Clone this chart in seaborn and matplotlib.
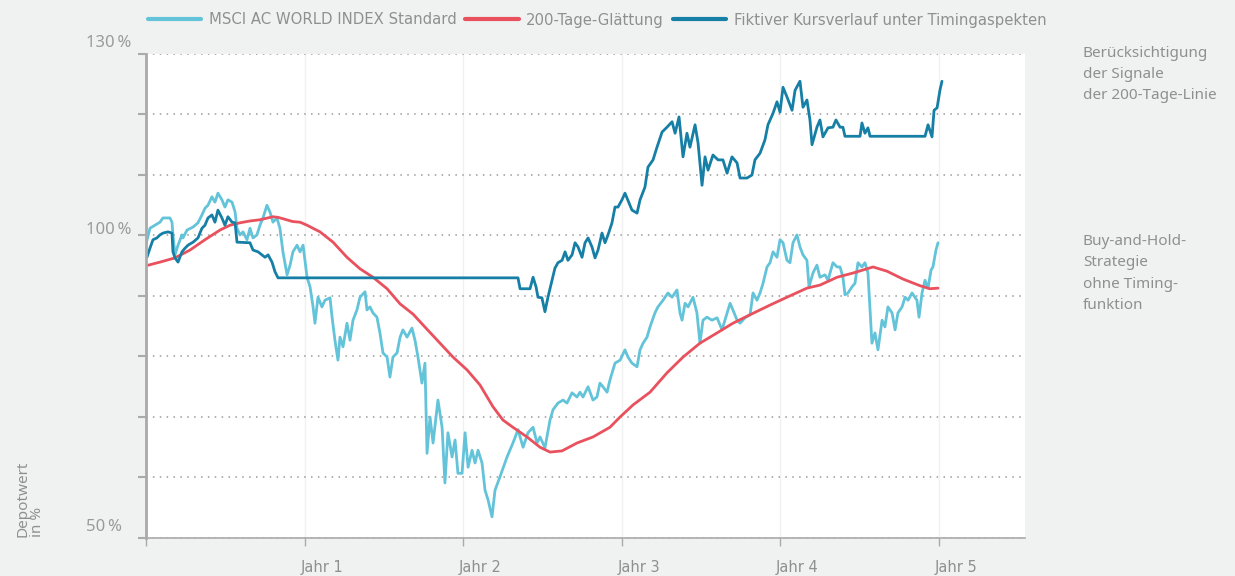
import matplotlib
matplotlib.use("Agg")
import matplotlib.pyplot as plt
import matplotlib.transforms as mtransforms
import seaborn as sns
import pandas as pd

# ---------------- data (years since start, value in %) ----------------
msci_t = [0.000, 0.025, 0.057, 0.088, 0.107, 0.151, 0.164, 0.170, 0.183, 0.202, 0.227, 0.233, 0.259, 0.297,
          0.328, 0.353, 0.372, 0.391, 0.416, 0.435, 0.454, 0.479, 0.498, 0.517, 0.543, 0.562, 0.574, 0.593,
          0.612, 0.637, 0.656, 0.675, 0.700, 0.719, 0.738, 0.763, 0.782, 0.801, 0.826, 0.845, 0.864, 0.890,
          0.909, 0.927, 0.953, 0.972, 0.991, 1.016, 1.035, 1.054, 1.066, 1.085, 1.110, 1.129, 1.161, 1.174,
          1.192, 1.211, 1.224, 1.243, 1.268, 1.287, 1.306, 1.331, 1.350, 1.382, 1.394, 1.413, 1.432, 1.457,
          1.476, 1.495, 1.521, 1.539, 1.558, 1.584, 1.603, 1.621, 1.647, 1.678, 1.697, 1.716, 1.741, 1.760,
          1.773, 1.792, 1.811, 1.842, 1.868, 1.886, 1.905, 1.931, 1.950, 1.968, 1.994, 2.013, 2.032, 2.057,
          2.076, 2.095, 2.120, 2.139, 2.158, 2.183, 2.202, 2.233, 2.278, 2.315, 2.347, 2.379, 2.410, 2.442,
          2.467, 2.486, 2.517, 2.549, 2.568, 2.599, 2.631, 2.656, 2.688, 2.719, 2.738, 2.757, 2.789, 2.820,
          2.845, 2.864, 2.883, 2.909, 2.927, 2.959, 2.991, 3.022, 3.041, 3.066, 3.098, 3.117, 3.136, 3.161,
          3.180, 3.211, 3.230, 3.262, 3.293, 3.319, 3.350, 3.369, 3.382, 3.401, 3.420, 3.451, 3.476, 3.495,
          3.514, 3.539, 3.571, 3.603, 3.634, 3.666, 3.685, 3.703, 3.729, 3.748, 3.779, 3.811, 3.830, 3.855,
          3.874, 3.893, 3.918, 3.937, 3.956, 3.981, 4.000, 4.019, 4.044, 4.063, 4.082, 4.107, 4.126, 4.145,
          4.170, 4.183, 4.208, 4.233, 4.252, 4.284, 4.303, 4.334, 4.360, 4.379, 4.397, 4.410, 4.429, 4.454,
          4.473, 4.492, 4.517, 4.536, 4.555, 4.580, 4.599, 4.618, 4.644, 4.662, 4.681, 4.707, 4.726, 4.744,
          4.770, 4.789, 4.808, 4.833, 4.864, 4.877, 4.896, 4.915, 4.934, 4.953, 4.965, 4.984, 4.997]
msci_v = [98.6, 101.2, 101.7, 102.2, 102.9, 102.9, 102.2, 100.1, 96.8, 98.4, 100.1, 99.6, 100.9, 101.4,
          102.1, 103.4, 104.5, 105.0, 106.4, 105.5, 107.0, 105.9, 104.7, 105.9, 105.5, 103.9, 101.2, 100.1,
          100.6, 99.3, 101.2, 99.6, 100.1, 101.7, 102.9, 105.0, 103.9, 102.2, 102.9, 101.2, 97.3, 93.5,
          95.1, 97.3, 98.4, 97.3, 98.4, 93.1, 91.5, 88.2, 85.5, 89.8, 88.2, 89.3, 89.7, 86.5,
          82.7, 79.4, 83.2, 81.6, 85.5, 82.7, 86.0, 87.7, 89.8, 90.7, 87.7, 88.2, 87.2, 86.5,
          83.9, 80.6, 79.9, 76.6, 79.9, 80.6, 83.2, 84.4, 83.2, 84.7, 82.7, 79.9, 75.6, 78.9,
          64.0, 70.0, 65.7, 72.8, 68.3, 59.1, 67.4, 63.4, 66.2, 60.7, 60.7, 67.4, 61.7, 64.5,
          62.4, 64.5, 62.4, 57.9, 56.3, 53.5, 57.9, 60.1, 63.4, 65.7, 67.9, 65.0, 67.4, 68.3,
          65.7, 66.7, 64.9, 69.5, 71.2, 72.3, 72.8, 72.3, 74.0, 73.3, 74.1, 73.3, 75.0, 72.8,
          73.3, 75.6, 75.0, 74.1, 76.1, 78.9, 79.4, 81.1, 79.9, 78.9, 78.3, 81.1, 82.2, 83.2,
          84.9, 87.2, 88.2, 89.3, 90.5, 89.8, 91.0, 87.2, 86.0, 88.8, 88.2, 89.8, 87.2, 82.2,
          86.0, 86.5, 86.0, 86.4, 84.4, 87.2, 88.8, 87.7, 86.0, 85.5, 86.4, 86.9, 90.5, 89.3,
          90.5, 92.1, 94.8, 95.5, 97.3, 96.4, 99.3, 98.8, 95.9, 95.5, 98.8, 100.1, 98.1, 96.8,
          95.9, 91.5, 93.8, 95.1, 93.1, 93.5, 92.6, 95.5, 94.8, 94.8, 93.1, 90.2, 90.5, 91.5,
          92.1, 95.5, 94.8, 95.5, 93.8, 82.2, 83.9, 81.1, 86.0, 84.9, 88.2, 87.2, 84.4, 87.2,
          88.2, 89.8, 89.3, 90.5, 89.3, 86.5, 90.5, 92.6, 91.3, 94.3, 94.8, 97.6, 98.8]

smooth_t = [0.000, 0.088, 0.183, 0.278, 0.372, 0.467, 0.530, 0.593, 0.656, 0.719, 0.801, 0.833, 0.927,
            0.972, 1.016, 1.098, 1.180, 1.268, 1.350, 1.432, 1.521, 1.603, 1.685, 1.773, 1.855, 1.937,
            2.025, 2.107, 2.189, 2.252, 2.315, 2.404, 2.486, 2.549, 2.625, 2.719, 2.820, 2.927, 2.991,
            3.073, 3.180, 3.287, 3.388, 3.495, 3.603, 3.703, 3.811, 3.937, 4.044, 4.170, 4.252, 4.360,
            4.461, 4.549, 4.587, 4.675, 4.776, 4.883, 4.946, 4.997]
smooth_v = [95.0, 95.6, 96.3, 97.6, 99.3, 100.9, 101.7, 102.1, 102.4, 102.6, 103.1, 103.0, 102.3,
            102.2, 101.7, 100.6, 98.9, 96.4, 94.5, 93.1, 91.2, 88.7, 87.0, 84.5, 82.2, 79.9,
            77.8, 75.3, 71.7, 69.5, 68.3, 66.7, 65.0, 64.2, 64.4, 65.7, 66.7, 68.3, 70.0,
            72.0, 74.1, 77.3, 79.9, 82.2, 83.9, 85.5, 86.9, 88.5, 89.8, 91.3, 91.8, 93.1,
            93.8, 94.5, 94.8, 94.1, 92.8, 91.7, 91.2, 91.3]

timing_t = [0.006, 0.025, 0.044, 0.069, 0.088, 0.107, 0.139, 0.164, 0.170, 0.183, 0.202, 0.227, 0.246,
            0.265, 0.297, 0.328, 0.353, 0.372, 0.391, 0.416, 0.435, 0.454, 0.479, 0.498, 0.517, 0.543,
            0.562, 0.574, 0.656, 0.675, 0.707, 0.732, 0.751, 0.770, 0.795, 0.814, 0.833, 2.347, 2.360,
            2.423, 2.442, 2.461, 2.473, 2.498, 2.517, 2.536, 2.562, 2.580, 2.599, 2.625, 2.644, 2.662,
            2.688, 2.707, 2.726, 2.751, 2.770, 2.789, 2.814, 2.833, 2.852, 2.877, 2.896, 2.915, 2.940,
            2.959, 2.978, 3.003, 3.022, 3.066, 3.098, 3.117, 3.148, 3.167, 3.199, 3.224, 3.256, 3.287,
            3.319, 3.338, 3.363, 3.388, 3.413, 3.432, 3.464, 3.483, 3.508, 3.527, 3.546, 3.577, 3.609,
            3.640, 3.666, 3.697, 3.729, 3.748, 3.792, 3.823, 3.842, 3.874, 3.905, 3.924, 3.956, 3.981,
            4.000, 4.019, 4.044, 4.076, 4.095, 4.126, 4.145, 4.170, 4.189, 4.202, 4.233, 4.252, 4.271,
            4.303, 4.334, 4.353, 4.379, 4.397, 4.410, 4.505, 4.517, 4.536, 4.555, 4.568, 4.915, 4.934,
            4.959, 4.972, 4.991, 5.009, 5.022]
timing_v = [96.4, 97.9, 99.3, 99.6, 100.1, 100.4, 100.6, 100.4, 97.3, 96.3, 95.6, 97.3, 97.9,
            98.4, 98.9, 99.6, 101.2, 101.7, 102.9, 103.4, 102.2, 104.2, 102.9, 101.7, 103.1, 102.2,
            102.1, 98.9, 98.8, 97.6, 97.3, 96.8, 96.4, 96.8, 95.6, 94.0, 93.0, 93.0, 91.2,
            91.2, 93.1, 91.5, 89.8, 89.7, 87.4, 89.8, 92.6, 94.6, 95.5, 95.9, 97.3, 95.9,
            96.8, 98.8, 98.1, 96.4, 98.8, 99.6, 98.1, 96.3, 97.6, 100.4, 98.8, 100.1, 102.1,
            104.7, 104.7, 105.9, 107.0, 104.2, 103.7, 105.9, 108.0, 111.3, 112.5, 114.6, 117.1, 117.9,
            118.8, 116.9, 119.6, 113.0, 116.9, 114.6, 118.3, 115.3, 108.3, 113.0, 110.8, 113.3, 112.5,
            112.5, 110.3, 113.0, 112.0, 109.5, 109.5, 110.0, 112.5, 113.6, 115.8, 118.3, 120.2, 122.1,
            120.4, 124.5, 122.9, 120.7, 124.0, 125.5, 121.2, 122.4, 119.1, 115.0, 117.9, 119.1, 116.3,
            117.8, 117.9, 119.1, 117.9, 117.9, 116.4, 116.4, 118.6, 116.9, 117.8, 116.4, 116.4, 118.3,
            116.3, 120.7, 121.1, 124.0, 125.5]

series_names = ["MSCI AC WORLD INDEX Standard", "200-Tage-Glättung",
                "Fiktiver Kursverlauf unter Timingaspekten"]
year_ticks = [0, 1, 2, 3, 4, 5]
year_labels = ["", "Jahr 1", "Jahr 2", "Jahr 3", "Jahr 4", "Jahr 5"]
grid_values = [50, 60, 70, 80, 90, 100, 110, 120, 130]
ylabel_values = [130, 100, 50]
ylabel_texts = ["130\u202f%", "100\u202f%", "50\u202f%"]
note_top = "Berücksichtigung\nder Signale\nder 200-Tage-Linie"
note_bottom = "Buy-and-Hold-\nStrategie\nohne Timing-\nfunktion"
axis_note = "Depotwert\nin %"

# ---------------- style ----------------
BG = "#f0f2f1"
GREY = "#8f8f8f"
C_MSCI = "#62c3d9"
C_SMOOTH = "#e8515d"
C_TIMING = "#167fa5"

sns.set_theme(style="white")
plt.rcParams["font.family"] = ["DejaVu Sans"]

W, H = 1235, 576
fig = plt.figure(figsize=(W / 100, H / 100), dpi=100, facecolor=BG)
ax = fig.add_axes([146 / W, (H - 538) / H, (1025 - 146) / W, (538 - 54) / H])
ax.set_facecolor("white")

df_msci = pd.DataFrame({"t": msci_t, "v": msci_v})
df_smooth = pd.DataFrame({"t": smooth_t, "v": smooth_v})
df_timing = pd.DataFrame({"t": timing_t, "v": timing_v})

sns.lineplot(data=df_msci, x="t", y="v", ax=ax, color=C_MSCI, linewidth=2.0,
             estimator=None, sort=False, label=series_names[0])
sns.lineplot(data=df_smooth, x="t", y="v", ax=ax, color=C_SMOOTH, linewidth=2.0,
             estimator=None, sort=False, label=series_names[1])
sns.lineplot(data=df_timing, x="t", y="v", ax=ax, color=C_TIMING, linewidth=2.0,
             estimator=None, sort=False, label=series_names[2])

ax.set_xlim(0, (1025 - 146) / 158.5)
ax.set_ylim(50, 130)
ax.set_xlabel("")
ax.set_ylabel("")

# grid
ax.set_yticks(grid_values)
ax.set_yticklabels([])
ax.yaxis.grid(True, linestyle=(0, (1, 3.5)), color="#9a9a9a", linewidth=1.1)
ax.set_xticks(year_ticks)
ax.xaxis.grid(True, linestyle="-", color="#f1f1f1", linewidth=1.0)
ax.set_axisbelow(True)

# spines & ticks
for s in ["top", "right"]:
    ax.spines[s].set_visible(False)
ax.spines["left"].set_color("#aaaaaa")
ax.spines["left"].set_linewidth(2.0)
ax.spines["bottom"].set_color("#aaaaaa")
ax.spines["bottom"].set_linewidth(1.2)
ax.tick_params(axis="y", which="major", left=True, length=6, width=1.5, color="#aaaaaa", pad=2)
ax.tick_params(axis="x", which="major", bottom=True, length=6, width=1.0, color="#aaaaaa",
               pad=10, labelsize=10.5, labelcolor=GREY)
ax.set_xticklabels(year_labels)
offset = mtransforms.ScaledTranslation(-4 / 100, 0, fig.dpi_scale_trans)
for lbl in ax.get_xticklabels():
    lbl.set_horizontalalignment("left")
    lbl.set_transform(lbl.get_transform() + offset)

# y labels (only a few)
label_offsets = [11, 5, 11]
for val, txt, off in zip(ylabel_values, ylabel_texts, label_offsets):
    ax.annotate(txt, xy=(0, val), xycoords=("axes fraction", "data"),
                xytext=(-60 * 0.72, off * 0.72), textcoords="offset points",
                ha="left", va="center", fontsize=12, color="#9a9a9a",
                family=["Noto Sans", "DejaVu Sans"])

# legend
leg = ax.legend(loc="center", bbox_to_anchor=(597 / W, 1 - 20 / H),
                bbox_transform=fig.transFigure, ncol=3, frameon=False,
                fontsize=10.7, handlelength=3.6, handletextpad=0.5, columnspacing=0.6,
                borderaxespad=0, borderpad=0)
for t in leg.get_texts():
    t.set_color(GREY)
for lh in leg.get_lines():
    lh.set_linewidth(3.0)

# right side notes
fig.text(1083 / W, 1 - 74.5 / H, note_top, ha="left", va="center", fontsize=11,
         color=GREY, linespacing=1.55, family=["Noto Sans", "DejaVu Sans"])
fig.text(1083 / W, 1 - 273.5 / H, note_bottom, ha="left", va="center", fontsize=11,
         color=GREY, linespacing=1.55, family=["Noto Sans", "DejaVu Sans"])

# rotated axis note
fig.text(30 / W, 1 - 537 / H, axis_note, rotation=90, ha="center", va="bottom",
         multialignment="left", fontsize=11, color=GREY, linespacing=1.0,
         family=["Noto Sans", "DejaVu Sans"])

fig.savefig("out.png", dpi=100, facecolor=BG)
